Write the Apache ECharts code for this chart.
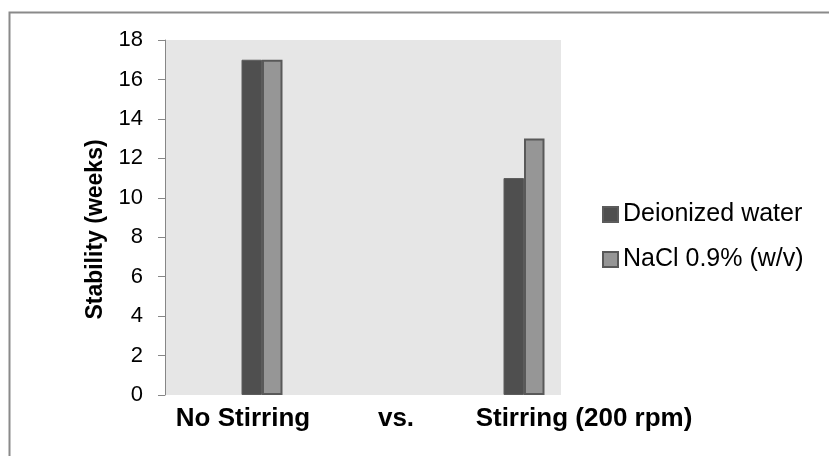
<!DOCTYPE html>
<html>
<head>
<meta charset="utf-8">
<script src="https://cdn.jsdelivr.net/npm/echarts@6/dist/echarts.min.js"></script>
<style>
html,body{margin:0;padding:0;background:#fff;}
#chart{width:829px;height:456px;}
</style>
</head>
<body>
<div id="chart"></div>
<script>
var categories = ['No Stirring', 'vs.', 'Stirring (200 rpm)'];
var seriesNames = ['Deionized water', 'NaCl 0.9% (w/v)'];
var deionizedWater = [17, null, 11];
var nacl = [17, null, 13];
var yTicks = { min: 0, max: 18, interval: 2 };

var FONT = '"Liberation Sans", Arial, sans-serif';
var chart = echarts.init(document.getElementById('chart'), null, { renderer: 'canvas' });

var labelShift = [-19, 3, 60];

chart.setOption({
  backgroundColor: '#ffffff',
  animation: false,
  graphic: [{
    type: 'rect', left: 7, top: 10, z: -10,
    shape: { width: 900, height: 500 },
    style: { fill: 'none', stroke: '#8a8a8a', lineWidth: 2 }
  }],
  grid: [
    { left: 165, top: 40, right: 268, bottom: 61, show: true, backgroundColor: '#e6e6e6', borderWidth: 0 },
    { left: 196.5, top: 40, right: 239.5, bottom: 61 }
  ],
  legend: {
    orient: 'vertical',
    left: 597, top: 197,
    itemWidth: 15, itemHeight: 15, itemGap: 20,
    icon: 'rect',
    textStyle: { fontFamily: FONT, fontSize: 25, color: '#000' },
    data: seriesNames
  },
  xAxis: [
    { type: 'category', gridIndex: 0, data: categories, show: false },
    {
      type: 'category', gridIndex: 1, data: categories,
      axisLine: { show: false }, axisTick: { show: false },
      axisLabel: {
        margin: 11,
        interval: 0,
        formatter: function (v, i) { return '{l' + i + '|' + v + '}'; },
        rich: (function () {
          var r = {};
          labelShift.forEach(function (d, i) {
            r['l' + i] = {
              fontFamily: FONT, fontSize: 26, fontWeight: 'bold', color: '#000',
              padding: d < 0 ? [0, -2 * d, 0, 0] : [0, 0, 0, 2 * d]
            };
          });
          return r;
        })()
      }
    }
  ],
  yAxis: [
    {
      type: 'value', gridIndex: 0,
      min: yTicks.min, max: yTicks.max, interval: yTicks.interval,
      name: 'Stability (weeks)', nameLocation: 'middle', nameGap: 58,
      nameTextStyle: { fontFamily: FONT, fontSize: 23, fontWeight: 'bold', color: '#000', padding: [0, 24, 0, 0] },
      axisLine: { show: true, lineStyle: { color: '#868686', width: 1 } },
      axisTick: { show: true, length: 7, lineStyle: { color: '#868686' } },
      splitLine: { show: false },
      axisLabel: { fontFamily: FONT, fontSize: 22, color: '#000', margin: 22 }
    },
    {
      type: 'value', gridIndex: 1,
      min: yTicks.min, max: yTicks.max, interval: yTicks.interval,
      show: false, splitLine: { show: false }
    }
  ],
  series: [
    {
      name: seriesNames[0], type: 'bar', xAxisIndex: 1, yAxisIndex: 1,
      data: deionizedWater, barWidth: 20.5, barGap: '0%',
      itemStyle: { color: '#4f4f4f', borderColor: '#5c5c5c', borderWidth: 1 }
    },
    {
      name: seriesNames[1], type: 'bar', xAxisIndex: 1, yAxisIndex: 1,
      data: nacl, barWidth: 20.5, barGap: '0%',
      itemStyle: { color: '#969696', borderColor: '#595959', borderWidth: 2 }
    }
  ]
});
</script>
</body>
</html>
